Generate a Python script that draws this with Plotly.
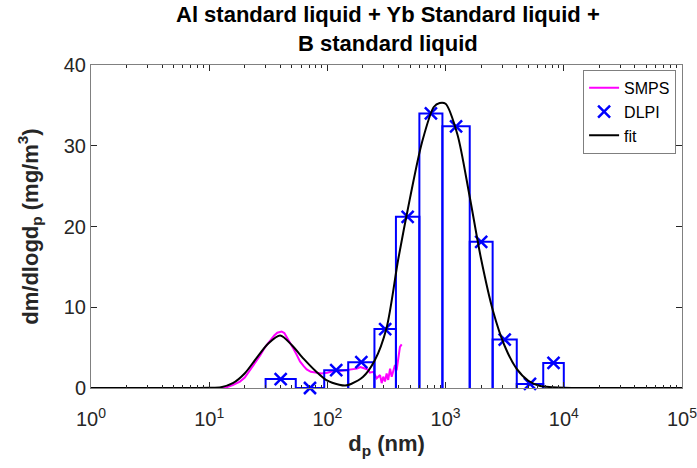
import plotly.graph_objects as go

# ---------------- data ----------------
# DLPI+ stage cut diameters (nm) and mass concentrations
dlpi_edges = [30, 54, 94, 150, 250, 380, 600, 940, 1600, 2500, 4000, 6700, 10000]
dlpi_values = [1.1, 0.0, 2.2, 3.2, 7.3, 21.2, 34.0, 32.4, 18.1, 6.0, 0.5, 3.1]

# SMPS size distribution (nm, mg/m3)
smps_dp = [12.6, 14.1, 15.8, 18.2, 20.0, 22.1, 24.5, 26.9, 29.5, 32.7, 35.5, 37.7,
           41.0, 43.2, 45.2, 48.4, 51.5, 55.0, 58.6, 63.0, 66.8, 72.4, 79.4, 89.0,
           100, 112, 126, 141, 158, 178, 190, 204, 219, 229, 244, 261, 279, 288,
           297, 307, 317, 327, 339, 350, 361, 373, 385, 398, 411, 425]
smps_values = [0.0, 0.1, 0.35, 0.8, 1.3, 2.2, 3.1, 4.0, 5.0, 5.9, 6.5, 6.85,
               7.0, 6.8, 6.35, 5.6, 4.9, 4.1, 3.3, 2.7, 2.3, 2.0, 1.9, 1.8,
               1.9, 2.1, 2.1, 2.2, 2.3, 2.4, 2.6, 2.4, 2.3, 1.9, 2.0, 1.2, 1.6, 0.6,
               1.4, 0.8, 1.8, 1.0, 2.4, 1.4, 2.0, 2.85, 2.2, 3.9, 5.1, 5.4]

# bimodal fit (log10 of dp in nm, mg/m3)
fit_logdp = [0.0, 0.5, 0.9, 1.0, 1.1, 1.2, 1.3, 1.4, 1.5, 1.6, 1.7, 1.8, 1.9, 2.0,
             2.1, 2.15, 2.2, 2.3, 2.4, 2.5, 2.6, 2.7, 2.8, 2.9, 2.95, 3.0, 3.1, 3.2,
             3.3, 3.4, 3.5, 3.6, 3.7, 3.8, 3.9, 4.0, 4.2, 4.6, 5.0]
fit_values = [0.0, 0.0, 0.0, 0.02, 0.1, 0.6, 1.8, 3.7, 5.5, 6.5, 5.3, 3.6, 2.1, 0.9,
              0.4, 0.3, 0.5, 1.35, 3.4, 7.4, 16.0, 23.6, 30.4, 34.8, 35.3, 35.2, 31.4, 24.0,
              16.0, 9.6, 5.2, 2.4, 0.9, 0.25, 0.1, 0.03, 0.0, 0.0, 0.0]

x_tick_vals = [1, 10, 100, 1000, 10000, 100000]
x_tick_text = ["10<sup>0</sup>", "10<sup>1</sup>", "10<sup>2</sup>",
               "10<sup>3</sup>", "10<sup>4</sup>", "10<sup>5</sup>"]
y_tick_vals = [0, 10, 20, 30, 40]

title_text = "<b>Al standard liquid + Yb Standard liquid +<br>B standard liquid</b>"

# ---------------- figure ----------------
FONT = "Liberation Sans, Arial, Helvetica, sans-serif"
AX = "#262626"

fit_dp = [10 ** v for v in fit_logdp]

bar_x, bar_y = [], []
for lo, hi, h in zip(dlpi_edges[:-1], dlpi_edges[1:], dlpi_values):
    bar_x += [lo, lo, hi, hi, None]
    bar_y += [0, h, h, 0, None]
mid_x = [(lo * hi) ** 0.5 for lo, hi in zip(dlpi_edges[:-1], dlpi_edges[1:])]

fig = go.Figure()
fig.add_trace(go.Scatter(x=smps_dp, y=smps_values, mode="lines", name="SMPS",
                         line=dict(color="#ff00ff", width=2)))
fig.add_trace(go.Scatter(x=bar_x, y=bar_y, mode="lines", showlegend=False,
                         line=dict(color="#0000ff", width=2), hoverinfo="skip"))
fig.add_trace(go.Scatter(x=mid_x, y=dlpi_values, mode="markers", name="DLPI",
                         cliponaxis=False,
                         marker=dict(symbol="x-thin", size=12, color="#0000ff",
                                     line=dict(color="#0000ff", width=2.5))))
fig.add_trace(go.Scatter(x=fit_dp, y=fit_values, mode="lines", name="fit",
                         line=dict(color="black", width=2, shape="spline", smoothing=0.8)))

minor_vals = [m * 10 ** k for k in range(0, 5) for m in range(2, 10)]

fig.update_layout(
    width=697, height=468,
    margin=dict(l=91, r=15, t=65, b=80),
    paper_bgcolor="white", plot_bgcolor="white",
    font=dict(family=FONT, color=AX),
    showlegend=True,
    legend=dict(x=0.99, y=0.985, xanchor="right", yanchor="top",
                bgcolor="white", bordercolor="#7f7f7f", borderwidth=1,
                font=dict(family=FONT, size=16, color="black"),
                itemwidth=30, tracegroupgap=0),
    annotations=[dict(text=title_text, xref="paper", yref="paper",
                      x=0.503, y=1.112, xanchor="center", yanchor="middle",
                      showarrow=False,
                      font=dict(family=FONT, size=22, color="black"))],
    xaxis=dict(type="log", range=[0, 5], tickmode="array",
               tickvals=x_tick_vals, ticktext=x_tick_text,
               ticks="inside", ticklen=6, tickcolor=AX, tickwidth=1,
               ticklabelstandoff=13, ticklabeloverflow="allow",
               showline=True, linecolor="#808080", linewidth=1, mirror="allticks",
               showgrid=False, zeroline=False, automargin=False,
               tickfont=dict(family=FONT, size=20, color=AX),
               minor=dict(ticks="inside", ticklen=3, tickcolor=AX, tickmode="array",
                          tickvals=minor_vals, showgrid=False),
               title=dict(text="<b>d<sub>p</sub> (nm)</b>", standoff=6,
                          font=dict(family=FONT, size=22, color=AX))),
    yaxis=dict(range=[0, 40], tickmode="array", tickvals=y_tick_vals,
               ticks="inside", ticklen=6, tickcolor=AX, tickwidth=1,
               showline=True, linecolor="#808080", linewidth=1, mirror="ticks",
               showgrid=False, zeroline=False, automargin=False,
               ticklabeloverflow="allow",
               tickfont=dict(family=FONT, size=20, color=AX),
               title=dict(text="<b>dm/dlogd<sub>p</sub> (mg/m<sup>3</sup>)</b>", standoff=19,
                          font=dict(family=FONT, size=22, color=AX))),
)

fig.write_html("out.html")
